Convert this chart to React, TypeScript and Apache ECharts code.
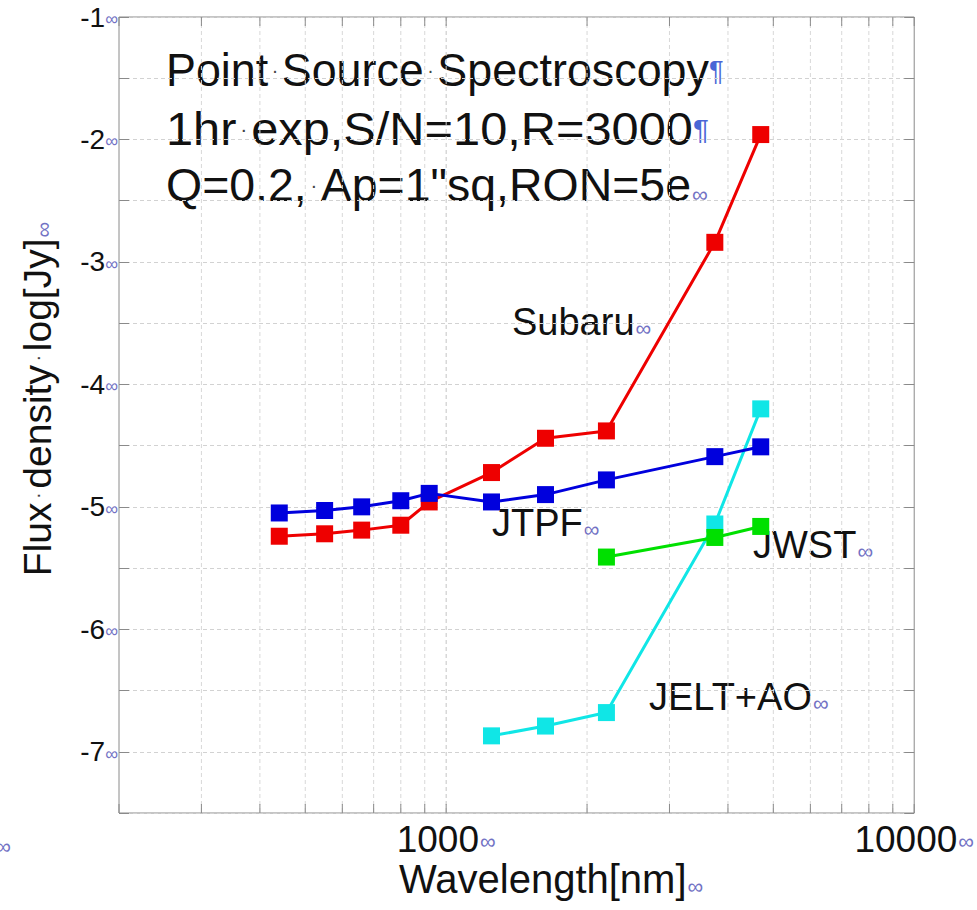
import React, { useEffect, useRef } from "react";
import * as echarts from "echarts";

// ---- data ----
const WAVELENGTH_OPT = [440, 550, 660, 800, 920, 1250, 1630, 2200, 3750, 4700];
const SUBARU = [-5.24, -5.22, -5.19, -5.15, -4.96, -4.72, -4.44, -4.38, -2.84, -1.96];
const JTPF = [-5.05, -5.03, -5.0, -4.95, -4.89, -4.96, -4.9, -4.78, -4.59, -4.51];
const WAVELENGTH_JWST = [2200, 3750, 4700];
const JWST = [-5.41, -5.25, -5.16];
const WAVELENGTH_JELT = [1250, 1630, 2200, 3750, 4700];
const JELT_AO = [-6.87, -6.79, -6.68, -5.14, -4.2];

const X_GRID = [200, 300, 400, 500, 600, 700, 800, 900, 1000, 2000, 3000, 4000, 5000, 6000, 7000, 8000, 9000, 10000];
const X_LABELS = [1000, 10000];
const Y_LABELS = [-1, -2, -3, -4, -5, -6, -7];
const X_MIN = 200;
const X_MAX = 10000;
const Y_MIN = -7.5;
const Y_MAX = -1;

const TITLE_LINES = [
  "Point{d|·}Source{d|·}Spectroscopy{p|¶}",
  "1hr{d|·}exp,S/N=10,R=3000{p|¶}",
  "Q=0.2,{d|·}Ap=1\"sq,RON=5e{m|∞}",
];

const FONT = "Liberation Sans, Arial, Helvetica, sans-serif";
const MARK = "#7272c4";

const zip = (xs: number[], ys: number[]) => xs.map((x, i) => [x, ys[i]]);

function makeLine(name: string, xs: number[], ys: number[], color: string, z: number) {
  return {
    type: "line",
    name,
    data: zip(xs, ys),
    symbol: "rect",
    symbolSize: 17,
    showSymbol: true,
    lineStyle: { color, width: 3 },
    itemStyle: { color },
    z,
    silent: true,
    clip: false,
  };
}

const richText = (size: number, lh: number) => ({
  d: { fontSize: 20, lineHeight: lh, padding: [0, 3.6], fill: "#444", color: "#444", fontFamily: FONT, verticalAlign: "middle" },
  p: { fontSize: 28, lineHeight: lh, fill: "#4a66d6", color: "#4a66d6", fontFamily: FONT, verticalAlign: "middle" },
  m: { fontSize: 22, lineHeight: lh, fill: MARK, color: MARK, fontFamily: FONT, verticalAlign: "bottom", padding: [0, 0, 3, 1] },
});

function textEl(text: string, x: number, y: number, size: number, align = "left", rotation = 0, scaleX = 1) {
  const lh = Math.round(size * 1.05);
  return {
    type: "text",
    x,
    y,
    rotation,
    scaleX,
    silent: true,
    style: {
      text,
      fontSize: size,
      lineHeight: lh,
      fontFamily: FONT,
      fill: "#111",
      align,
      textAlign: align,
      verticalAlign: "middle",
      textVerticalAlign: "middle",
      rich: richText(size, lh),
    },
  };
}

const isLabelX = (v: number) => X_LABELS.some((t) => Math.abs(t - v) / t < 1e-6);
const isLabelY = (v: number) => Y_LABELS.some((t) => Math.abs(t - v) < 1e-6);

export default function App() {
  const ref = useRef<HTMLDivElement>(null);
  useEffect(() => {
    const chart = echarts.init(ref.current!, undefined, { renderer: "svg" });
    const yAxisBase = {
      type: "value",
      min: Y_MIN,
      max: Y_MAX,
      interval: 0.5,
      axisLine: { show: false },
      axisTick: { show: true, inside: true, length: 10, lineStyle: { color: "#8a8a8a", width: 1 } },
    };
    const option: any = {
      animation: false,
      backgroundColor: "#ffffff",
      grid: {
        left: 119,
        top: 17,
        right: 60,
        bottom: 97,
        show: true,
        borderColor: "#8a8a8a",
        borderWidth: 1,
        backgroundColor: "transparent",
      },
      xAxis: {
        type: "log",
        logBase: 10,
        min: X_MIN,
        max: X_MAX,
        axisLine: { show: false },
        axisTick: { show: false },
        splitLine: { show: false },
        axisLabel: {
          margin: 10,
          formatter: (v: number) => (isLabelX(v) ? `{a|${Math.round(v)}}{m|∞}` : ""),
          rich: {
            a: { fontSize: 37, lineHeight: 32, color: "#111", fontFamily: FONT },
            m: { fontSize: 22, lineHeight: 32, color: MARK, fontFamily: FONT, verticalAlign: "bottom", padding: [0, 0, 3, 1] },
          },
        },
      },
      yAxis: [
        {
          ...yAxisBase,
          position: "left",
          splitLine: { show: true, lineStyle: { color: "#d2d2d2", type: [4, 3], width: 1 } },
          axisLabel: {
            margin: 1,
            formatter: (v: number) => (isLabelY(v) ? `{a|${Math.round(v)}}{m|∞}` : ""),
            rich: {
              a: { fontSize: 28, color: "#111", fontFamily: FONT },
              m: { fontSize: 18, color: MARK, fontFamily: FONT, verticalAlign: "bottom", padding: [0, 0, 3, 0] },
            },
          },
        },
        {
          ...yAxisBase,
          position: "right",
          splitLine: { show: false },
          axisLabel: { show: false },
        },
      ],
      series: [
        {
          type: "custom",
          name: "xgrid",
          silent: true,
          clip: false,
          z: 1,
          data: X_GRID.map((v) => [v, Y_MIN]),
          encode: { x: 0, y: 1 },
          renderItem: (params: any, api: any) => {
            const x = api.value(0);
            const top = api.coord([x, Y_MAX]);
            const bot = api.coord([x, Y_MIN]);
            const children: any[] = [];
            if (x > X_MIN && x < X_MAX) {
              children.push({
                type: "line",
                shape: { x1: top[0], y1: top[1], x2: bot[0], y2: bot[1] },
                style: { stroke: x === 1000 ? "#c4c4c4" : "#d8d8d8", lineWidth: 1, lineDash: [4, 3] },
              });
            }
            children.push({
              type: "line",
              shape: { x1: bot[0], y1: bot[1], x2: bot[0], y2: bot[1] - 9 },
              style: { stroke: "#8a8a8a", lineWidth: 1 },
            });
            children.push({
              type: "line",
              shape: { x1: top[0], y1: top[1], x2: top[0], y2: top[1] + 9 },
              style: { stroke: "#8a8a8a", lineWidth: 1 },
            });
            return { type: "group", children };
          },
        },
        makeLine("Subaru", WAVELENGTH_OPT, SUBARU, "#ee0000", 3),
        makeLine("JELT+AO", WAVELENGTH_JELT, JELT_AO, "#10e6e6", 4),
        makeLine("JWST", WAVELENGTH_JWST, JWST, "#00e000", 5),
        makeLine("JTPF", WAVELENGTH_OPT, JTPF, "#0000dd", 6),
      ],
      graphic: [
        textEl(TITLE_LINES[0], 166, 70, 46, "left", 0, 0.975),
        textEl(TITLE_LINES[1], 166, 129, 46, "left", 0, 1.06),
        textEl(TITLE_LINES[2], 166, 185, 46, "left", 0, 1.01),
        textEl("Subaru{m|∞}", 512, 322, 38),
        textEl("JTPF{m|∞}", 492, 523, 38),
        textEl("JWST{m|∞}", 753, 545, 38),
        textEl("JELT+AO{m|∞}", 649, 697, 38),
        textEl("Wavelength[nm]{m|∞}", 399, 879, 40),
        textEl("Flux{d|·}density{d|·}log[Jy]{m|∞}", 37, 399, 39, "center", Math.PI / 2),
        textEl("100{m|∞}", 11, 841, 36, "right"),
      ],
    };
    chart.setOption(option);
    return () => chart.dispose();
  }, []);
  return (
    <div
      ref={ref}
      style={{ position: "fixed", left: 0, top: 0, width: 977, height: 910, background: "#fff" }}
    />
  );
}
